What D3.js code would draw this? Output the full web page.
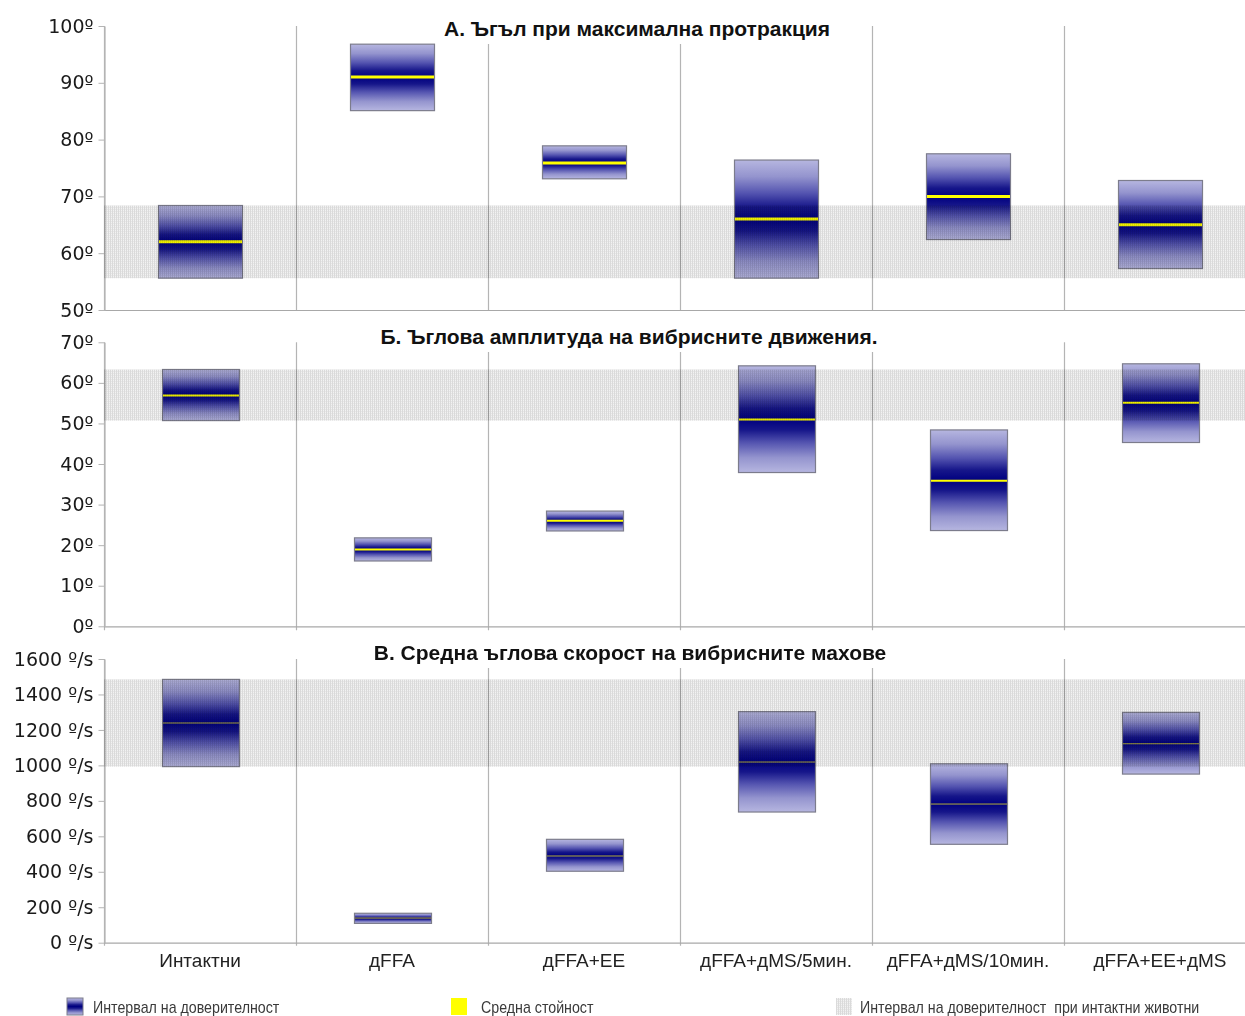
<!DOCTYPE html>
<html>
<head>
<meta charset="utf-8">
<script src="https://cdn.jsdelivr.net/npm/d3@7"></script>
<style>
  html, body { margin: 0; padding: 0; background: #fff; }
  svg { display: block; }
</style>
</head>
<body>
<div id="chart"></div>
<script>
// Groups shown on the x axis
const categories = ["Интактни", "дFFA", "дFFA+EE", "дFFA+дMS/5мин.", "дFFA+дMS/10мин.", "дFFA+EE+дMS"];

// А. Angle at maximal protraction (degrees): confidence interval and mean
const protractionLow  = [55.6, 85.1, 73.1, 55.6, 62.4, 57.3];
const protractionHigh = [68.4, 96.8, 78.9, 76.4, 77.5, 72.8];
const protractionMean = [62.0, 91.0, 75.9, 66.0, 70.0, 65.0];
const protractionTicks = [50, 60, 70, 80, 90, 100];

// Б. Angular amplitude of whisker movements (degrees)
const amplitudeLow  = [50.7, 16.1, 23.5, 37.9, 23.6, 45.3];
const amplitudeHigh = [63.3, 21.8, 28.4, 64.2, 48.4, 64.7];
const amplitudeMean = [56.9, 18.9, 26.0, 51.0, 35.9, 55.1];
const amplitudeTicks = [0, 10, 20, 30, 40, 50, 60, 70];

// В. Mean angular velocity of whisker sweeps (degrees per second)
const velocityLow  = [993, 109, 403, 737, 555, 951];
const velocityHigh = [1485, 166, 583, 1303, 1009, 1299];
const velocityMean = [1239, 139, 489, 1019, 782, 1122];
const velocityTicks = [0, 200, 400, 600, 800, 1000, 1200, 1400, 1600];

const titles = [
  "А. Ъгъл при максимална протракция",
  "Б. Ъглова амплитуда на вибрисните движения.",
  "В. Средна ъглова скорост на вибрисните махове"
];
const legendLabels = ["Интервал на доверителност", "Средна стойност", "Интервал на доверителност  при интактни животни"];

// ---- layout ----
const W = 1245, H = 1016;
const plotLeft = 104, plotRight = 1256;
const tickFont = "'DejaVu Sans', Verdana, sans-serif";
const sansFont = "'Liberation Sans', Arial, sans-serif";

const panels = [
  { title: titles[0], low: protractionLow, high: protractionHigh, mean: protractionMean,
    ticks: protractionTicks, fmt: d => d + "º", top: 26, bottom: 310,
    boxFrac: 0.435, meanWidth: 3, meanColor: "#ffff00", sepExt: 0, titleX: 637, titleY: 36 },
  { title: titles[1], low: amplitudeLow, high: amplitudeHigh, mean: amplitudeMean,
    ticks: amplitudeTicks, fmt: d => d + "º", top: 342.3, bottom: 626.3,
    boxFrac: 0.40, meanWidth: 2, meanColor: "#ffff00", sepExt: 4, titleX: 629, titleY: 344 },
  { title: titles[2], low: velocityLow, high: velocityHigh, mean: velocityMean,
    ticks: velocityTicks, fmt: d => d + " º/s", top: 659, bottom: 942.7,
    boxFrac: 0.40, meanWidth: 1, meanColor: "#b4ae3a", sepExt: 3, titleX: 630, titleY: 660 }
];

const svg = d3.select("#chart").append("svg")
  .attr("width", W).attr("height", H)
  .attr("viewBox", `0 0 ${W} ${H}`);

svg.append("rect").attr("width", W).attr("height", H).attr("fill", "#fff");

const defs = svg.append("defs");

// Vertical gradient for the confidence-interval boxes: light edges, navy centre
const grad = defs.append("linearGradient")
  .attr("id", "ciGrad").attr("x1", 0).attr("y1", 0).attr("x2", 0).attr("y2", 1);
[[0, "#b6b6e0"], [0.14, "#9494ce"], [0.28, "#5454b0"], [0.4, "#16168a"], [0.5, "#000080"],
 [0.6, "#16168a"], [0.72, "#5454b0"], [0.86, "#9494ce"], [1, "#b6b6e0"]]
  .forEach(([o, c]) => grad.append("stop").attr("offset", o).attr("stop-color", c));

// Fine stippled texture for the intact-animals band
const pat = defs.append("pattern")
  .attr("id", "bandPat").attr("patternUnits", "userSpaceOnUse")
  .attr("width", 2).attr("height", 2);
pat.append("rect").attr("width", 2).attr("height", 2).attr("fill", "#f2f2f2");
pat.append("rect").attr("width", 1).attr("height", 2).attr("fill", "#dadada");
pat.append("rect").attr("x", 1).attr("y", 1).attr("width", 1).attr("height", 1).attr("fill", "#e6e6e6");

const x = d3.scaleBand().domain(categories).range([plotLeft, plotRight]).paddingInner(0).paddingOuter(0);
const boundaries = categories.map(c => x(c));

panels.forEach((p, pi) => {
  const y = d3.scaleLinear()
    .domain(d3.extent(p.ticks))
    .range([p.bottom, p.top]);
  const g = svg.append("g").attr("class", "panel");

  // category separators (first one doubles as the y axis line)
  g.selectAll("line.sep").data(boundaries).join("line")
    .attr("class", "sep")
    .attr("x1", d => d + 0.5).attr("x2", d => d + 0.5)
    .attr("y1", p.top).attr("y2", p.bottom + p.sepExt)
    .attr("stroke", "#b4b4b4").attr("stroke-width", 1.2);

  // bottom axis line
  g.append("line")
    .attr("x1", plotLeft).attr("x2", W)
    .attr("y1", p.bottom + 0.5).attr("y2", p.bottom + 0.5)
    .attr("stroke", "#a8a8a8").attr("stroke-width", 1.2);

  // y axis ticks + labels
  const ax = g.append("g")
    .attr("transform", `translate(${plotLeft + 0.5},0)`)
    .call(d3.axisLeft(y).tickValues(p.ticks).tickFormat(p.fmt).tickSize(6).tickSizeOuter(0).tickPadding(5));
  ax.select(".domain").attr("stroke", "#b4b4b4").attr("stroke-width", 1.2);
  ax.selectAll(".tick line").attr("stroke", "#b4b4b4");
  ax.selectAll(".tick text")
    .attr("font-family", tickFont).attr("font-size", 19).attr("fill", "#1a1a1a");

  // confidence-interval boxes
  const boxW = x.bandwidth() * p.boxFrac;
  const rows = categories.map((c, i) => ({ c, lo: p.low[i], hi: p.high[i], m: p.mean[i] }));
  const boxX = d => Math.round(x(d.c) + x.bandwidth() / 2 - boxW / 2) + 0.5;
  g.selectAll("rect.ci").data(rows).join("rect")
    .attr("class", "ci")
    .attr("x", boxX)
    .attr("width", Math.round(boxW))
    .attr("y", d => y(d.hi))
    .attr("height", d => y(d.lo) - y(d.hi))
    .attr("fill", "url(#ciGrad)")
    .attr("stroke", "#7c7c8c").attr("stroke-width", 1.2);

  // mean lines
  g.selectAll("line.mean").data(rows).join("line")
    .attr("class", "mean")
    .attr("x1", d => boxX(d) + 0.5)
    .attr("x2", d => boxX(d) + Math.round(boxW) - 0.5)
    .attr("y1", d => y(d.m)).attr("y2", d => y(d.m))
    .attr("stroke", p.meanColor).attr("stroke-width", p.meanWidth);

  // band of the intact group's confidence interval, laid over with multiply
  g.append("rect")
    .attr("x", plotLeft).attr("width", W - plotLeft)
    .attr("y", y(p.high[0])).attr("height", y(p.low[0]) - y(p.high[0]))
    .attr("fill", "url(#bandPat)")
    .style("mix-blend-mode", "multiply");

  // title with a white backing that hides the separators beneath it
  const tg = g.append("g");
  const bg = tg.append("rect").attr("fill", "#fff");
  const t = tg.append("text")
    .attr("x", p.titleX).attr("y", p.titleY)
    .attr("text-anchor", "middle")
    .attr("font-family", sansFont).attr("font-weight", "bold")
    .attr("font-size", 21).attr("fill", "#111")
    .text(p.title);
  const bb = t.node().getBBox();
  bg.attr("x", bb.x - 4).attr("y", bb.y - 2)
    .attr("width", bb.width + 8).attr("height", bb.height + 6);

  // category labels under the last panel
  if (pi === panels.length - 1) {
    g.selectAll("text.cat").data(categories).join("text")
      .attr("class", "cat")
      .attr("x", d => x(d) + x.bandwidth() / 2)
      .attr("y", 967)
      .attr("text-anchor", "middle")
      .attr("font-family", sansFont).attr("font-size", 19).attr("fill", "#222")
      .text(d => d);
  }
});

// ---- legend ----
const legend = svg.append("g").attr("class", "legend");
const legendX = [67, 451, 836];
const legendTextX = [93, 481, 860];
const legendFills = ["url(#ciGrad)", "#ffff00", "url(#bandPat)"];
legendLabels.forEach((lab, i) => {
  legend.append("rect")
    .attr("x", legendX[i]).attr("y", 998).attr("width", 16).attr("height", 17)
    .attr("fill", legendFills[i])
    .attr("stroke", i === 0 ? "#7c7c8c" : "none");
  // narrow lettering: regular sans compressed horizontally
  legend.append("text")
    .attr("transform", `translate(${legendTextX[i]},1013) scale(0.89,1)`)
    .style("white-space", "pre")
    .attr("font-family", sansFont)
    .attr("font-size", 16).attr("fill", "#3a3a3a")
    .text(lab);
});
</script>
</body>
</html>
